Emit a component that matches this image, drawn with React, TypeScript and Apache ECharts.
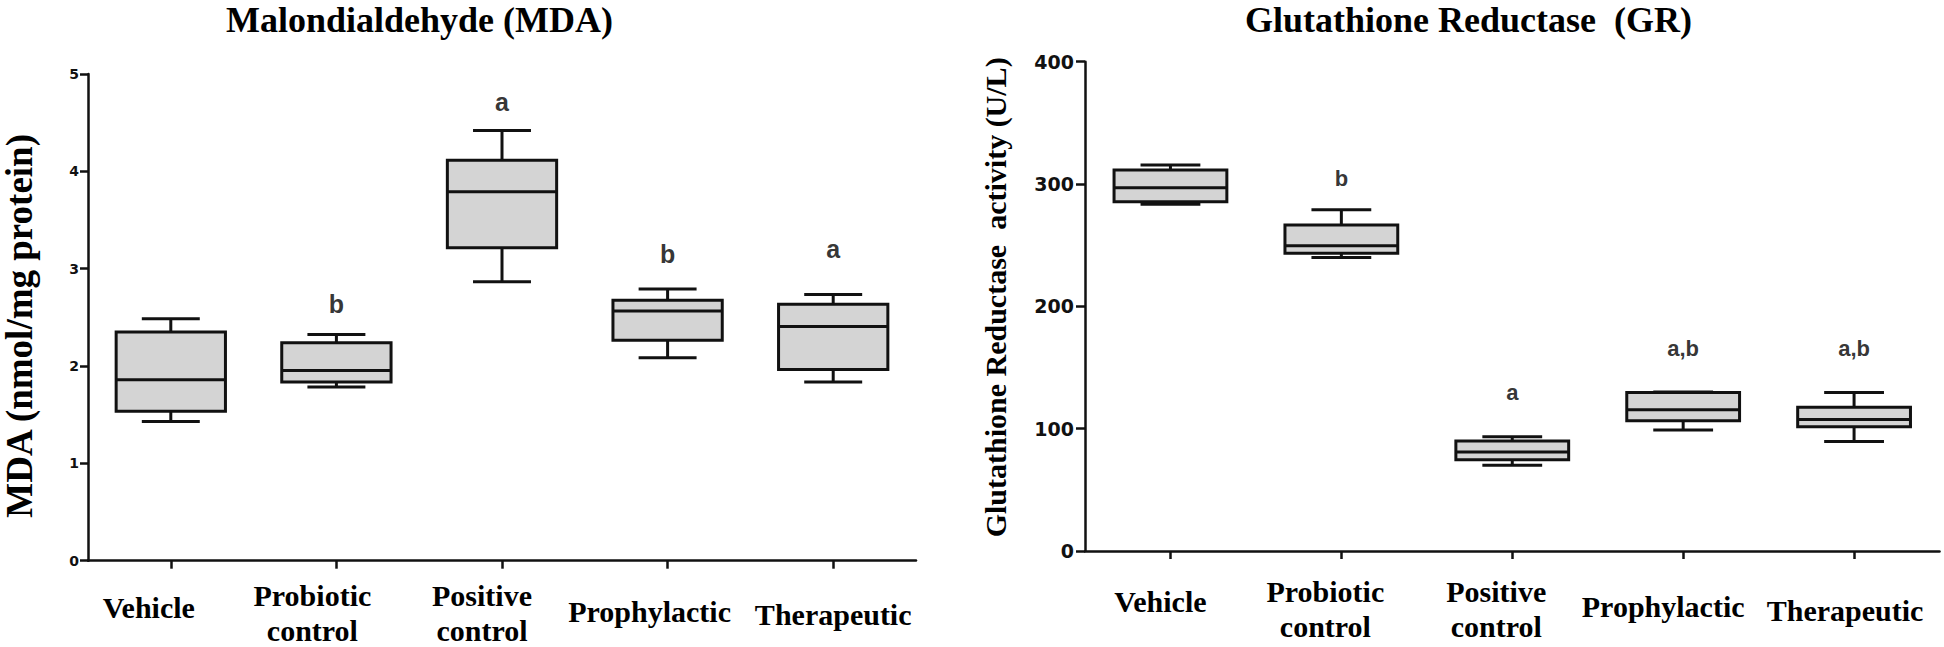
import React, { useEffect, useRef } from 'react';
import * as echarts from 'echarts';

// ---------- data ----------
const categories = ['Vehicle', 'Probiotic\ncontrol', 'Positive\ncontrol', 'Prophylactic', 'Therapeutic'];

// MDA (nmol/mg protein): [min, Q1, median, Q3, max]
const mdaVehicle = [1.43, 1.535, 1.86, 2.35, 2.485];
const mdaProbiotic = [1.785, 1.835, 1.955, 2.24, 2.325];
const mdaPositive = [2.865, 3.215, 3.79, 4.115, 4.42];
const mdaProphylactic = [2.085, 2.265, 2.565, 2.675, 2.79];
const mdaTherapeutic = [1.835, 1.965, 2.405, 2.635, 2.735];
const mdaBoxes = [mdaVehicle, mdaProbiotic, mdaPositive, mdaProphylactic, mdaTherapeutic];
const mdaLetters = ['', 'b', 'a', 'b', 'a'];
const mdaLetterY = [0, 2.637, 4.708, 3.152, 3.204];
const mdaAxis = { min: 0, max: 5, interval: 1 };

// Glutathione Reductase activity (U/L): [min, Q1, median, Q3, max]
const grVehicle = [283.5, 285.5, 297, 311.5, 315.5];
const grProbiotic = [240, 243.5, 249.5, 266.5, 279];
const grPositive = [70, 74.5, 81, 90, 93.5];
const grProphylactic = [99, 106.5, 115.5, 129.5, 130];
const grTherapeutic = [89.5, 101.5, 107.5, 117.5, 129.5];
const grBoxes = [grVehicle, grProbiotic, grPositive, grProphylactic, grTherapeutic];
const grLetters = ['', 'b', 'a', 'a,b', 'a,b'];
const grLetterY = [0, 304.9, 129.2, 165.9, 165.9];
const grAxis = { min: 0, max: 400, interval: 100 };

// ---------- styles ----------
const SERIF = "'Times New Roman', 'Liberation Serif', serif";
const TICK_FONT = "'DejaVu Sans', Verdana, sans-serif";
const INK = '#111111';
const BOX_FILL = '#d4d4d4';

// per-label layout tweaks (style, not data)
const leftLabelShift = [22, 24, 20, 18, 0];
const leftLabelLH = [59, 35, 35, 67, 73];
const rightLabelShift = [10, 16, 16, 20, 9];
const rightLabelLH = [55, 35, 35, 65, 73];

function makeRich(shift: number[], lh: number[]) {
  const rich: Record<string, any> = {};
  categories.forEach((_, i) => {
    rich['c' + i] = {
      fontSize: 30,
      fontWeight: 'bold',
      fontFamily: SERIF,
      color: '#000',
      lineHeight: lh[i],
      padding: [0, 2 * shift[i], 0, 0],
    };
  });
  return rich;
}

function boxRenderer(params: any, api: any) {
  const c = api.value(0);
  const lo = api.value(1);
  const q1 = api.value(2);
  const med = api.value(3);
  const q3 = api.value(4);
  const hi = api.value(5);
  const band = api.size([1, 0])[0];
  const bw = band * 0.66;
  const cw = band * 0.35;
  const pLo = api.coord([c, lo]);
  const pQ1 = api.coord([c, q1]);
  const pMed = api.coord([c, med]);
  const pQ3 = api.coord([c, q3]);
  const pHi = api.coord([c, hi]);
  const x = pLo[0];
  const ls = { stroke: INK, lineWidth: 3 };
  return {
    type: 'group',
    children: [
      { type: 'line', shape: { x1: x, y1: pHi[1], x2: x, y2: pQ3[1] }, style: ls },
      { type: 'line', shape: { x1: x - cw / 2, y1: pHi[1], x2: x + cw / 2, y2: pHi[1] }, style: ls },
      { type: 'line', shape: { x1: x, y1: pLo[1], x2: x, y2: pQ1[1] }, style: ls },
      { type: 'line', shape: { x1: x - cw / 2, y1: pLo[1], x2: x + cw / 2, y2: pLo[1] }, style: ls },
      {
        type: 'rect',
        shape: { x: x - bw / 2, y: pQ3[1], width: bw, height: pQ1[1] - pQ3[1] },
        style: { fill: BOX_FILL, stroke: INK, lineWidth: 3 },
      },
      { type: 'line', shape: { x1: x - bw / 2, y1: pMed[1], x2: x + bw / 2, y2: pMed[1] }, style: ls },
    ],
  };
}

function categoryAxis(gridIndex: number, margin: number, shift: number[], lh: number[]) {
  return {
    type: 'category',
    gridIndex,
    data: categories,
    boundaryGap: true,
    axisLine: { show: true, lineStyle: { color: INK, width: 2.5 } },
    axisTick: { show: true, alignWithLabel: true, length: 8, lineStyle: { color: INK, width: 2.5 } },
    splitLine: { show: false },
    axisLabel: {
      interval: 0,
      hideOverlap: false,
      margin,
      formatter: (v: string, i: number) =>
        v
          .split('\n')
          .map((s) => `{c${i}|${s}}`)
          .join('\n'),
      rich: makeRich(shift, lh),
    },
  };
}

function letterSeries(axisIndex: number, letters: string[], ys: number[], fontSize: number, fontFamily: string) {
  return {
    type: 'scatter',
    xAxisIndex: axisIndex,
    yAxisIndex: axisIndex,
    symbolSize: 0,
    silent: true,
    data: letters.map((t, i) => (t ? { value: [i, ys[i]], name: t } : null)).filter(Boolean),
    label: {
      show: true,
      position: 'inside',
      formatter: '{b}',
      fontSize,
      fontWeight: 'bold',
      fontFamily,
      color: '#000',
      textBorderWidth: 0,
      textBorderColor: 'transparent',
    },
  };
}

export default function App() {
  const ref = useRef<HTMLDivElement>(null);
  useEffect(() => {
    if (!ref.current) return;
    const chart = echarts.init(ref.current, undefined, { renderer: 'svg' });
    const titleStyle = { fontSize: 36, fontWeight: 'bold', fontFamily: SERIF, color: '#000', lineHeight: 40 };
    const option: any = {
      animation: false,
      backgroundColor: '#ffffff',
      title: [
        { text: 'Malondialdehyde (MDA)', left: 226, top: 0, padding: 0, textStyle: titleStyle },
        { text: 'Glutathione Reductase  (GR)', left: 1245, top: 0, padding: 0, textStyle: titleStyle },
      ],
      grid: [
        { left: 83.5, top: 74, width: 832.5, height: 486.7 },
        { left: 1085, top: 61.7, width: 858.5, height: 489.3 },
      ],
      xAxis: [
        categoryAxis(0, 17, leftLabelShift, leftLabelLH),
        categoryAxis(1, 23, rightLabelShift, rightLabelLH),
      ],
      yAxis: [
        {
          type: 'value',
          gridIndex: 0,
          min: mdaAxis.min,
          max: mdaAxis.max,
          interval: mdaAxis.interval,
          splitLine: { show: false },
          axisLine: { show: true, lineStyle: { color: INK, width: 2.5 } },
          axisTick: { show: true, length: 8, lineStyle: { color: INK, width: 2.5 } },
          axisLabel: { fontSize: 14, fontWeight: 'bold', fontFamily: TICK_FONT, color: '#111', margin: 9 },
          name: 'MDA (nmol/mg protein)',
          nameLocation: 'middle',
          nameRotate: 90,
          nameGap: 50,
          nameTextStyle: {
            fontSize: 37,
            fontWeight: 'bold',
            fontFamily: SERIF,
            color: '#000',
            padding: [0, 17, 0, 0],
          },
        },
        {
          type: 'value',
          gridIndex: 1,
          min: grAxis.min,
          max: grAxis.max,
          interval: grAxis.interval,
          splitLine: { show: false },
          axisLine: { show: true, lineStyle: { color: INK, width: 2.5 } },
          axisTick: { show: true, length: 9, lineStyle: { color: INK, width: 2.5 } },
          axisLabel: { fontSize: 19, fontWeight: 'bold', fontFamily: TICK_FONT, color: '#111', margin: 11 },
          name: 'Glutathione Reductase  activity (U/L)',
          nameLocation: 'middle',
          nameRotate: 90,
          nameGap: 75,
          nameTextStyle: {
            fontSize: 30,
            fontWeight: 'bold',
            fontFamily: SERIF,
            color: '#000',
            padding: [0, 0, 0, 18],
          },
        },
      ],
      series: [
        {
          type: 'custom',
          xAxisIndex: 0,
          yAxisIndex: 0,
          renderItem: boxRenderer,
          encode: { x: 0, y: [1, 2, 3, 4, 5] },
          data: mdaBoxes.map((b, i) => [i, ...b]),
          clip: false,
          silent: true,
        },
        letterSeries(
          0,
          mdaLetters,
          mdaLetterY,
          25,
          "'Liberation Sans Narrow', 'Arial Narrow', 'Liberation Sans', Arial, sans-serif"
        ),
        {
          type: 'custom',
          xAxisIndex: 1,
          yAxisIndex: 1,
          renderItem: boxRenderer,
          encode: { x: 0, y: [1, 2, 3, 4, 5] },
          data: grBoxes.map((b, i) => [i, ...b]),
          clip: false,
          silent: true,
        },
        letterSeries(1, grLetters, grLetterY, 22, "'Liberation Sans', Arial, sans-serif"),
      ],
    };
    chart.setOption(option);
    return () => chart.dispose();
  }, []);
  return (
    <div
      ref={ref}
      style={{ position: 'fixed', left: 0, top: 0, width: 1944, height: 647, background: '#fff' }}
    />
  );
}
